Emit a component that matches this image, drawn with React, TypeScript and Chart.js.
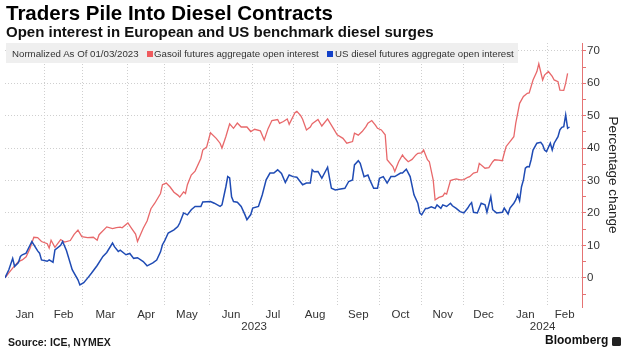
import React, { useEffect, useRef } from "react";
import { Chart, registerables } from "chart.js";

Chart.register(...registerables);

// x = trading-day index since 2023-01-03
const gasoilDays = [0,2,4,7,9,11,13,15,17,19,22,23,24,26,29,31,34,36,38,40,43,46,48,49,53,56,58,60,61,64,66,68,69,72,74,76,78,81,82,84,86,88,90,91,93,94,95,97,99,102,103,105,107,110,112,113,115,117,119,121,123,126,128,130,133,135,137,139,142,143,145,147,148,151,152,154,155,157,159,160,163,165,168,171,173,176,178,181,182,184,186,188,189,191,193,194,196,198,199,202,203,205,207,208,210,212,214,215,217,218,220,221,223,224,226,228,229,230,232,233,235,237,239,241,242,244,246,247,250,252,254,255,257,259,260,261,263,265,266,267,268,270,272,273,275,277,278,280,281,283,285,286,288,289,291,292,293];
const gasoilValues = [0,1.5,3,5,5.5,6.5,9,12.5,12.4,11.2,10.5,9.2,11.6,9.4,11.8,11,11.5,13.4,14.7,12.7,12.4,12.5,11.6,13.3,15.7,15.2,15.5,15.6,15.4,16.9,15.2,13.5,11.2,15.3,17.5,21.3,23,26,28.7,29.2,28,26.4,25.5,24.9,26.5,26,28.7,31.7,32.9,36.8,39.4,40.3,44.7,43,41.5,40,43.5,47.5,46.1,47.7,46.5,46.5,45.1,45.8,45.3,42.5,46,48.5,48.8,47.6,48.2,49,47.3,50.9,51.3,50,48.9,45.6,46.5,47.5,48.8,46.8,49,46.1,44.1,43,41.5,42,44.6,44,45.1,46.6,47.7,48.5,47,46.1,45.6,44.1,36.4,34.3,32.8,35.8,37.9,37,35.8,36.5,37.9,38.4,38.5,39.4,36.4,35.8,30.2,24,24.8,25.2,26.1,25.8,30,30.2,30.5,30.2,30.3,31,31.2,32.3,32.6,35.3,33.8,34,35.8,36.4,36.3,36.1,38.4,40.5,42,43.5,47.7,50.7,53.8,55.9,56.9,57,61,63.6,66,61,62.5,63.6,62.1,61,60.5,57.9,57.8,60,63];

const dieselDays = [0,2,4,5,7,8,9,11,14,17,18,19,22,23,25,26,29,30,32,35,38,39,41,43,45,48,51,53,56,57,59,60,63,65,67,69,72,74,77,79,81,82,83,85,88,90,91,93,95,97,99,102,103,107,109,112,113,115,116,117,118,119,121,123,125,126,128,129,132,134,136,138,140,142,144,146,148,150,152,155,157,159,160,161,163,165,168,169,170,172,174,177,179,181,182,184,185,187,189,190,192,194,195,197,199,201,203,206,207,209,211,213,215,216,217,219,220,222,224,225,227,228,230,232,233,235,237,239,241,242,243,244,246,247,248,250,251,253,254,256,259,260,262,263,265,266,267,268,269,270,271,272,273,274,275,277,279,280,281,282,284,285,286,288,289,290,291,292,293,294];
const dieselValues = [0,2.5,6,3.5,4.7,6.6,7.1,7.6,11.2,8.3,7.6,5.5,5.1,5.5,4.8,8.6,10,11.2,8.4,2.5,-0.6,-2.2,-1.5,-0.1,1.4,3.8,6.6,7.8,10.7,9.6,8.1,8.5,7.1,7.5,6,6.2,5,3.7,4.6,5.5,8,10.2,11.2,13.8,14.8,15.8,16.9,20,19.4,21,22,22,23.4,23.5,23,22,22.5,28,31.2,30.8,25,23.5,23.3,22,19.4,17.9,19.5,21.5,22,25.6,30.2,32.3,32.3,33.3,32.2,29.4,31.7,31.2,31,28.7,29.2,29.2,33.3,32.7,32.8,30.7,34.1,30.7,27.6,27.1,27.3,27.6,29.7,30.2,34.8,36.1,35.3,31.2,31.7,30.2,27.6,27.6,30.7,31.2,29.2,31.2,31.2,32.3,32.3,33.5,31.2,25.6,23,20,19.4,21.4,21.4,21.9,21.4,22.5,21.4,22.5,22,23,22.2,21.4,20.4,20,21.5,22.5,23.2,20.2,20,21.5,23,22.5,20.2,25,21,20,20.2,21.5,19.7,21.5,23,24,25.6,23.8,28.1,30.2,33.8,34.3,34.2,36.4,39.4,41.5,41.8,41,39.4,38.9,41.5,39.4,41.5,43.5,45.6,46.4,46.6,50.2,46.1,46.5];

// month starts (trading-day index) and labels
const monthStarts = [20.5, 40.5, 64, 83, 106.5, 129, 150, 173, 195, 217, 239, 259.5, 282.5];
const monthLabels = ["Jan","Feb","Mar","Apr","May","Jun","Jul","Aug","Sep","Oct","Nov","Dec","Jan","Feb"];
const yearLabels = ["2023","2024"];
const yearStarts = [259.5];
const yTickValues = [-5,0,5,10,15,20,25,30,35,40,45,50,55,60,65,70];
const X_MIN = 0;
const X_MAX = 300.5;
const Y_MIN = -9;
const Y_MAX = 72.4;

const FONT = "'Liberation Sans', Arial, sans-serif";
const RED = "#e8686a";
const BLUE = "#1f4bb4";
const AXIS_RED = "#e57373";
const GRID = "#cfcfcf";

export default function App() {
  const ref = useRef<HTMLCanvasElement | null>(null);

  useEffect(() => {
    if (!ref.current) return;
    Chart.defaults.font.family = FONT;
    const edges = [X_MIN, ...monthStarts, X_MAX];
    const monthMids = monthLabels.map((_, i) => (edges[i] + edges[i + 1]) / 2);
    const yEdges = [X_MIN, ...yearStarts, X_MAX];
    const yearMids = yearLabels.map((_, i) => (yEdges[i] + yEdges[i + 1]) / 2);

    const chart = new Chart(ref.current, {
      type: "line",
      data: {
        datasets: [
          {
            label: "US diesel futures aggregate open interest",
            data: dieselDays.map((d, i) => ({ x: d, y: dieselValues[i] })),
            borderColor: BLUE,
            borderWidth: 1.5,
            pointRadius: 0,
            tension: 0,
            order: 0,
          },
          {
            label: "Gasoil futures aggregate open interest",
            data: gasoilDays.map((d, i) => ({ x: d, y: gasoilValues[i] })),
            borderColor: RED,
            borderWidth: 1.3,
            pointRadius: 0,
            tension: 0,
            order: 1,
          },
        ],
      },
      options: {
        animation: false,
        responsive: false,
        maintainAspectRatio: false,
        layout: { padding: { left: 5, top: 43, right: 0, bottom: 19 } },
        plugins: { legend: { display: false }, tooltip: { enabled: false } },
        scales: {
          x: {
            type: "linear",
            position: "bottom",
            weight: 0,
            min: X_MIN,
            max: X_MAX,
            afterBuildTicks: (s: any) => {
              s.ticks = monthStarts.map((v) => ({ value: v }));
            },
            ticks: { display: false },
            grid: { color: GRID, drawTicks: false, lineWidth: 1 },
            border: { display: false, dash: [1, 2] },
            afterFit: (s: any) => {
              s.height = 0;
            },
          },
          xm: {
            type: "linear",
            position: "bottom",
            weight: 1,
            min: X_MIN,
            max: X_MAX,
            afterBuildTicks: (s: any) => {
              s.ticks = monthMids.map((v) => ({ value: v }));
            },
            ticks: {
              autoSkip: false,
              maxRotation: 0,
              padding: 1,
              color: "#333",
              font: { size: 11.5, family: FONT },
              callback: (_v: any, i: number) => monthLabels[i],
            },
            grid: { display: false, drawTicks: false },
            border: { display: false },
            afterFit: (s: any) => {
              s.height = 13;
            },
          },
          xy: {
            type: "linear",
            position: "bottom",
            weight: 2,
            min: X_MIN,
            max: X_MAX,
            afterBuildTicks: (s: any) => {
              s.ticks = yearMids.map((v) => ({ value: v }));
            },
            ticks: {
              autoSkip: false,
              maxRotation: 0,
              padding: 0,
              color: "#333",
              font: { size: 11.5, family: FONT },
              callback: (_v: any, i: number) => yearLabels[i],
            },
            grid: { display: false, drawTicks: false },
            border: { display: false },
            afterFit: (s: any) => {
              s.height = 16;
            },
          },
          y: {
            type: "linear",
            position: "right",
            min: Y_MIN,
            max: Y_MAX,
            afterBuildTicks: (s: any) => {
              s.ticks = yTickValues.map((v) => ({ value: v }));
            },
            ticks: {
              padding: 1,
              color: "#333",
              font: { size: 11.5, family: FONT },
              callback: (v: any) => (Number(v) % 10 === 0 ? String(v) : ""),
            },
            grid: {
              color: (ctx: any) =>
                ctx.tick && ctx.tick.value % 10 === 0 ? GRID : "rgba(0,0,0,0)",
              tickColor: AXIS_RED,
              tickLength: 4,
              tickBorderDash: [],
              drawTicks: true,
            },
            border: { display: true, color: AXIS_RED, width: 1, dash: [1, 2] },
            title: {
              display: true,
              text: "Percentage change",
              color: "#222",
              font: { size: 13.5, family: FONT },
              padding: { top: 7, bottom: 0 },
            },
            afterFit: (s: any) => {
              s.width = 46;
            },
          },
        },
      } as any,
    });
    return () => chart.destroy();
  }, []);

  const abs: React.CSSProperties = { position: "absolute", whiteSpace: "nowrap", fontFamily: FONT };

  return (
    <div style={{ position: "absolute", left: 0, top: 0, width: 628, height: 355, background: "#fff", overflow: "hidden" }}>
      <canvas ref={ref} width={628} height={355} style={{ position: "absolute", left: 0, top: 0, width: 628, height: 355 }} />
      <div style={{ ...abs, left: 6, top: 2.5, fontSize: 20.5, lineHeight: "20.5px", fontWeight: 700, color: "#000" }}>
        Traders Pile Into Diesel Contracts
      </div>
      <div style={{ ...abs, left: 6, top: 24, fontSize: 15, lineHeight: "15px", fontWeight: 700, color: "#111" }}>
        Open interest in European and US benchmark diesel surges
      </div>
      <div style={{ position: "absolute", left: 6, top: 43, width: 512, height: 20, background: "#efefef" }}>
        <span style={{ ...abs, left: 6, top: 1, fontSize: 9.7, lineHeight: "20px", color: "#333" }}>Normalized As Of 01/03/2023</span>
        <span style={{ position: "absolute", left: 141, top: 8, width: 6, height: 6, background: "#ef5b5e" }} />
        <span style={{ ...abs, left: 148, top: 1, fontSize: 9.7, lineHeight: "20px", color: "#333" }}>Gasoil futures aggregate open interest</span>
        <span style={{ position: "absolute", left: 321, top: 8, width: 6, height: 6, background: "#1240c8" }} />
        <span style={{ ...abs, left: 329, top: 1, fontSize: 9.7, lineHeight: "20px", color: "#333" }}>US diesel futures aggregate open interest</span>
      </div>
      <div style={{ ...abs, left: 8, top: 336.5, fontSize: 10.5, lineHeight: "10.5px", fontWeight: 700, color: "#1a1a1a" }}>
        Source: ICE, NYMEX
      </div>
      <div style={{ ...abs, left: 545, top: 334, fontSize: 12, lineHeight: "12px", fontWeight: 700, color: "#111" }}>
        Bloomberg
      </div>
      <div style={{ position: "absolute", left: 612, top: 337, width: 8.5, height: 9, background: "#222", borderRadius: 1.5 }} />
    </div>
  );
}
